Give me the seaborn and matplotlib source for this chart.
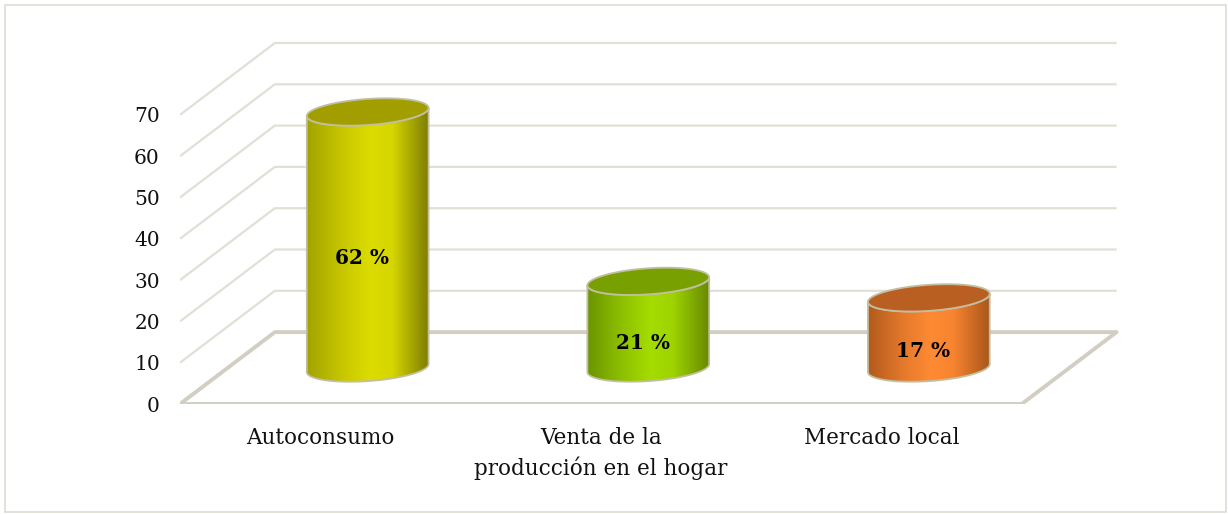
"""
Cylinder-style 3D bar chart: destino de la produccion
"""
import matplotlib
matplotlib.use("Agg")
import matplotlib.pyplot as plt
import numpy as np
import seaborn as sns
from matplotlib.colors import LinearSegmentedColormap
from matplotlib.patches import Polygon, Rectangle

categories = ["Autoconsumo", "Venta de la\nproducción en el hogar", "Mercado local"]
values = [62, 21, 17]
labels = ["62 %", "21 %", "17 %"]
yticks = [0, 10, 20, 30, 40, 50, 60, 70]

# body gradient (left -> peak -> right) and lid colour for each cylinder
body_colors = [
    ["#a3a300", "#c8c800", "#dcdc00", "#d6d600", "#7d7d00"],
    ["#6c9400", "#8fc200", "#a4dc00", "#9fd400", "#688a00"],
    ["#b25a1c", "#e67a2c", "#ff8a34", "#f7842f", "#a9561c"],
]
lid_colors = ["#a29e00", "#78a000", "#b95f22"]
edge_col = "#c2bea0"
grid_col = "#e2dfd6"
floor_col = "#d3cec3"

# oblique depth of the box (in category / value units)
DX, DY = 0.338, 17.4
# cylinder cross-section
W = 0.217
K = 0.19
SX, SY = K * DX, K * DY
A = np.sqrt(W ** 2 - SX ** 2)

sns.set_theme(style="white")
plt.rcParams["font.family"] = ["DejaVu Serif"]

fig = plt.figure(figsize=(12.28, 5.14), dpi=100)
ax = fig.add_axes([180 / 1228, 110 / 514, 982 / 1228, 392.4 / 514])

sns.barplot(x=categories, y=values, width=2 * W, ax=ax)
bars = list(ax.patches)

# back wall + left wall gridlines
for v in yticks:
    lw = 2.8 if v == 0 else 1.6
    col = floor_col if v == 0 else grid_col
    ax.plot([-0.5, -0.5 + DX, 2.5 + DX], [v, v + DY, v + DY],
            color=col, lw=lw, zorder=1, solid_capstyle="butt")
# floor front and right edges
ax.plot([-0.5, 2.5, 2.5 + DX], [0, 0, DY], color=floor_col, lw=2.8, zorder=1)


def ellipse(cx, cy, t):
    return np.column_stack([cx + A * np.cos(t) + SX * np.sin(t),
                            cy + SY * np.sin(t)])


tr = np.arctan2(SX, A)
front = np.linspace(tr + np.pi, tr + 2 * np.pi, 80)
full = np.linspace(0, 2 * np.pi, 160)

for i, bar in enumerate(bars):
    bar.set_visible(False)
    cx = bar.get_x() + bar.get_width() / 2 + DX / 2
    h = bar.get_height()
    base = DY / 2
    top = base + h
    body = np.vstack([ellipse(cx, base, front), ellipse(cx, top, front[::-1])])
    body_patch = Polygon(body, closed=True, facecolor="none",
                         edgecolor=edge_col, lw=1.3, zorder=4)
    ax.add_patch(body_patch)
    cmap = LinearSegmentedColormap.from_list(
        "c%d" % i, list(zip([0, 0.3, 0.52, 0.7, 1], body_colors[i])))
    im = ax.imshow(np.linspace(0, 1, 256)[None, :], cmap=cmap, aspect="auto",
                   extent=[cx - W, cx + W, base - SY - 1, top + SY + 1],
                   zorder=3, interpolation="bilinear")
    im.set_clip_path(body_patch)
    ax.add_patch(Polygon(ellipse(cx, top, full), closed=True,
                         facecolor=lid_colors[i], edgecolor=edge_col,
                         lw=1.3, zorder=5))
    ax.text(cx - 0.02, base + h / 2 - 4.4, labels[i], ha="center", va="center",
            fontsize=14.5, fontweight="bold", color="black", zorder=6)

ax.set_xlim(-0.5, 3.0)
ax.set_ylim(0, 95)
ax.set_yticks(yticks)
ax.set_xticks(range(len(categories)))
ax.set_xticklabels(categories, linespacing=1.4)
ax.tick_params(axis="y", length=0, pad=14.5, labelsize=14.5, labelcolor="#111111")
ax.tick_params(axis="x", length=0, pad=16.5, labelsize=15.5, labelcolor="#111111")
ax.set_xlabel("")
ax.set_ylabel("")
for s in ax.spines.values():
    s.set_visible(False)
ax.set_facecolor("none")

fig.patches.append(Rectangle((5 / 1228, 2 / 514), 1221 / 1228, 507 / 514,
                             transform=fig.transFigure, fill=False,
                             edgecolor="#dedbd2", lw=1.2))

fig.savefig("out.png", dpi=100, facecolor="white")
